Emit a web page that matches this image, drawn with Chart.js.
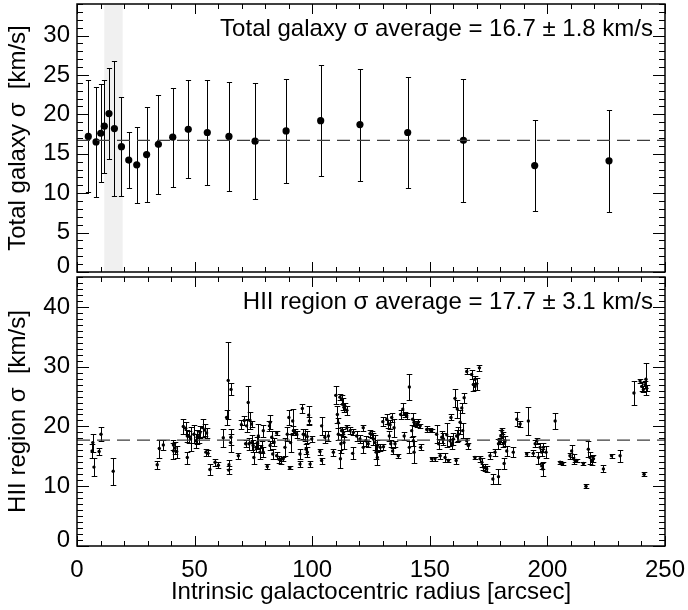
<!DOCTYPE html>
<html>
<head>
<meta charset="utf-8">
<script src="https://cdn.jsdelivr.net/npm/chart.js@4.4.1/dist/chart.umd.min.js"></script>
<style>
  html, body { margin: 0; padding: 0; background: #fff; }
  #wrap { position: relative; width: 688px; height: 610px; }
  #galaxyChart { position: absolute; left: 0; top: 0; }
  #hiiChart { position: absolute; left: 0; top: 273px; }
</style>
</head>
<body>
<div id="wrap">
  <canvas id="galaxyChart" width="688" height="282"></canvas>
  <canvas id="hiiChart" width="688" height="337"></canvas>
</div>
<script>
// ---- data ----
const xTickValues = [0, 50, 100, 150, 200, 250];
const galTickValues = [0, 5, 10, 15, 20, 25, 30];
const hiiTickValues = [0, 10, 20, 30, 40];

// total galaxy sigma per annulus
const galRadius = [4.8, 8.1, 10.1, 11.6, 13.6, 15.9, 18.9, 22.0, 25.4, 29.6, 34.6, 40.7,
    47.3, 55.4, 64.6, 75.7, 88.9, 103.6, 120.3, 140.6, 164.3, 194.6, 226.2];
const galSigma = [17.2, 16.5, 17.6, 18.5, 20.1, 18.2, 15.9, 14.2, 13.6, 14.9, 16.2, 17.1,
    18.1, 17.7, 17.2, 16.6, 17.9, 19.2, 18.7, 17.7, 16.7, 13.5, 14.1];
const galError = [7.1, 7.0, 6.2, 5.9, 5.8, 8.6, 6.3, 3.5, 4.8, 6.0, 6.3, 6.3,
    6.2, 6.6, 6.9, 7.4, 6.6, 7.0, 7.1, 7.0, 7.8, 5.8, 6.5];
const galAverage = 16.7;
const shadeRange = [11.6, 19.4];

// individual HII regions
const hiiRadius = [6.4, 6.7, 7.2, 9.4, 10.2, 15.4, 34.1, 35.0, 36.7, 41.0, 41.0, 41.7, 42.4,
    45.2, 46.2, 46.9, 46.9, 47.8, 48.3, 49.7, 50.6, 51.1, 51.7, 52.3, 53.4, 54.3, 54.8, 55.1,
    55.7, 56.5, 58.7, 60.1, 62.2, 63.6, 64.3, 64.5, 64.6, 65.3, 65.4, 65.5, 68.6, 69.9, 71.1,
    71.7, 72.1, 72.8, 73.1, 73.5, 74.2, 74.2, 74.9, 75.2, 76.1, 76.7, 77.1, 77.8, 78.5, 79.2,
    79.2, 80.9, 81.8, 82.1, 82.1, 82.8, 83.2, 83.8, 84.9, 84.9, 85.9, 86.6, 87.7, 88.4, 89.4,
    90.1, 90.5, 90.8, 91.7, 92.0, 92.7, 93.4, 94.8, 94.8, 95.8, 96.2, 96.9, 97.4, 97.9, 97.9,
    98.5, 98.8, 99.1, 99.8, 103.3, 104.0, 104.0, 105.4, 106.9, 109.0, 110.0, 110.7, 111.1,
    111.1, 111.8, 112.0, 112.2, 112.5, 112.5, 112.9, 113.3, 113.5, 113.5, 113.9, 114.7, 114.7,
    116.1, 117.2, 117.5, 118.9, 120.3, 121.7, 121.7, 122.8, 123.8, 124.6, 125.3, 126.0, 126.7,
    127.2, 127.7, 127.7, 128.9, 130.0, 130.3, 131.7, 132.4, 132.8, 133.1, 133.4, 133.8, 134.2,
    134.8, 135.2, 136.6, 137.6, 138.5, 139.1, 139.5, 140.2, 141.3, 141.3, 142.3, 142.7, 143.0,
    143.3, 143.3, 144.4, 145.1, 145.9, 146.1, 148.7, 150.1, 150.8, 150.8, 152.2, 152.9, 153.7,
    154.4, 155.1, 155.8, 156.5, 157.2, 157.9, 158.6, 159.0, 159.3, 160.0, 160.7, 161.2, 161.4,
    161.7, 162.2, 162.9, 163.6, 164.0, 164.6, 165.7, 165.7, 166.4, 167.8, 168.5, 169.2, 169.2,
    169.2, 169.9, 171.1, 171.4, 172.1, 172.8, 173.5, 174.2, 175.6, 176.8, 177.7, 179.2, 179.2,
    179.9, 180.2, 180.6, 181.0, 181.3, 181.6, 182.0, 182.7, 185.5, 187.0, 188.4, 191.2, 191.9,
    194.0, 194.8, 195.5, 196.2, 196.9, 197.6, 197.6, 198.0, 198.3, 199.4, 203.3, 205.4, 206.5,
    209.6, 210.3, 211.1, 211.8, 212.5, 215.3, 216.4, 217.4, 218.1, 218.8, 219.6, 223.8, 227.3,
    230.9, 236.8, 239.4, 240.1, 240.8, 241.1, 241.5, 241.9, 242.2];
const hiiSigma = [15.9, 17.3, 13.2, 15.8, 18.7, 12.5, 13.6, 16.3, 16.9, 16.9, 15.9, 16.4, 15.8,
    20.0, 19.7, 18.4, 14.8, 18.3, 17.9, 18.7, 17.6, 18.2, 18.3, 19.0, 19.8, 19.4, 15.7, 18.9,
    15.5, 12.8, 14.0, 13.5, 18.1, 21.5, 27.7, 12.7, 13.6, 17.3, 18.2, 26.2, 15.1, 20.3, 21.0,
    17.1, 20.1, 24.0, 17.1, 21.0, 20.4, 17.3, 16.8, 14.8, 16.5, 17.3, 18.4, 15.7, 16.5, 19.3,
    15.7, 13.3, 20.1, 20.7, 16.8, 18.2, 15.4, 17.4, 18.9, 15.1, 14.5, 14.3, 14.6, 16.5, 18.7,
    21.5, 13.1, 17.3, 20.9, 19.3, 19.0, 18.7, 15.4, 13.7, 23.0, 18.7, 18.6, 16.2, 15.7, 18.3,
    21.9, 20.9, 13.7, 17.9, 15.8, 20.1, 14.3, 18.2, 18.4, 15.7, 25.2, 22.0, 20.6,
    18.7, 24.9, 14.6, 17.1, 24.5, 19.3, 23.7, 19.0, 23.2, 17.3, 23.4, 22.7, 19.8,
    19.3, 15.5, 19.0, 18.4, 17.9, 19.8, 16.5, 17.6, 17.1, 18.8, 18.7, 17.9, 17.3,
    15.7, 14.8, 16.8, 16.5, 20.8, 16.6, 21.2, 20.4, 18.4, 20.3, 17.1, 21.5, 15.9,
    19.8, 17.1, 15.1, 22.0, 22.9, 18.4, 22.0, 21.8, 26.6, 16.5, 19.3, 21.2, 17.6,
    20.7, 15.7, 20.4, 20.7, 20.1, 16.5, 19.5, 19.4, 19.3, 14.6, 14.6, 18.7, 17.1,
    15.1, 18.2, 17.9, 14.8, 18.6, 14.3, 17.6, 21.5, 17.1, 17.9, 24.7, 14.3, 18.4,
    22.9, 18.7, 20.7, 23.1, 19.3, 24.8, 29.2, 17.6, 16.8, 28.7, 27.0, 27.9, 26.7,
    14.8, 27.1, 29.8, 14.6, 14.0, 13.2, 13.1, 12.9, 15.1, 11.2, 15.7, 17.1, 11.6,
    17.6, 18.4, 19.3, 18.2, 17.1, 13.8, 17.6, 15.9, 15.7, 21.2, 20.4, 15.4, 20.9,
    15.5, 17.1, 17.6, 14.8, 16.5, 15.7, 13.4, 12.9, 16.5, 15.7, 20.9, 14.0, 13.8,
    15.1, 15.9, 14.6, 14.3, 14.3, 13.8, 10.0, 16.2, 14.8, 14.3, 14.6, 12.9, 15.1,
    15.1, 25.6, 27.6, 26.7, 26.2, 12.0, 27.0, 27.9, 26.4];
const hiiError = [1.2, 1.5, 1.5, 0.6, 1.2, 2.3, 0.7, 1.5, 0.8, 0.8, 1.3, 1.0, 1.0,
    1.2, 1.0, 1.0, 1.0, 1.0, 2.0, 1.5, 1.2, 1.2, 1.0, 1.0, 1.5, 1.0, 0.6, 0.8,
    0.5, 1.0, 0.6, 0.5, 1.5, 1.2, 6.5, 0.6, 0.8, 1.5, 1.3, 1.0, 0.5, 0.8, 0.8,
    0.6, 1.0, 2.8, 1.0, 1.5, 0.5, 1.2, 1.0, 1.0, 0.8, 1.0, 2.0, 1.2, 1.0, 1.0,
    0.8, 0.5, 0.8, 1.2, 0.8, 1.0, 0.8, 0.6, 0.3, 0.6, 0.6, 0.5, 0.3, 1.5, 1.2,
    1.2, 0.3, 1.5, 2.0, 0.8, 0.5, 0.6, 0.8, 0.5, 0.8, 0.8, 1.0, 0.8, 0.8, 1.0,
    1.5, 0.6, 0.5, 0.5, 0.5, 1.5, 0.5, 1.0, 0.8, 0.6, 1.5, 1.5, 0.8,
    1.0, 0.5, 1.5, 1.5, 0.8, 0.6, 1.0, 0.6, 0.8, 1.0, 0.6, 0.8, 0.5,
    0.6, 1.0, 0.5, 0.8, 0.6, 0.5, 1.0, 0.8, 0.5, 0.6, 0.6, 1.0, 1.2,
    1.2, 1.2, 1.0, 0.6, 0.8, 0.5, 0.8, 0.6, 0.8, 0.8, 0.6, 0.8, 0.5,
    1.5, 0.5, 0.3, 0.8, 1.0, 0.6, 0.5, 0.5, 2.2, 1.0, 1.0, 1.0, 0.8,
    0.6, 1.8, 0.5, 0.5, 0.3, 0.5, 0.5, 0.3, 0.3, 0.3, 0.3, 1.5, 0.8,
    0.5, 1.0, 1.0, 0.8, 2.0, 0.3, 0.8, 0.5, 0.8, 1.0, 1.5, 0.5, 1.0,
    1.5, 1.2, 2.0, 0.8, 1.2, 0.8, 0.5, 0.5, 0.5, 0.8, 1.0, 0.6, 0.6,
    0.3, 1.0, 0.5, 0.5, 0.8, 0.5, 0.6, 0.5, 0.6, 0.8, 0.6, 0.8, 1.2,
    0.5, 1.0, 0.5, 0.8, 0.6, 1.0, 0.8, 0.8, 0.8, 1.2, 0.5, 0.3, 2.3,
    0.5, 0.6, 0.5, 1.0, 0.8, 0.6, 0.5, 1.2, 0.8, 1.0, 1.3, 0.3, 0.3,
    0.5, 1.0, 0.8, 0.3, 0.3, 0.3, 0.3, 1.3, 1.0, 0.8, 0.6, 0.6, 0.3,
    1.0, 2.0, 0.3, 0.8, 0.5, 0.3, 0.6, 2.7, 0.5];
const hiiAverage = 17.7;

const FONT = '"Liberation Sans", Arial, Helvetica, sans-serif';

// snap to the pixel grid so 1px strokes stay crisp
const crisp = (v) => Math.round(v) + 0.5;

// frame, inward IDL-style ticks, error bars, shading and the average label
function makePanelPlugin(cfg) {
    return {
        id: 'panel',
        beforeDatasetsDraw(chart) {
            const { ctx, chartArea: a, scales: { x, y } } = chart;
            if (cfg.band) {
                const x0 = x.getPixelForValue(cfg.band[0]);
                const x1 = x.getPixelForValue(cfg.band[1]);
                ctx.save();
                ctx.fillStyle = '#f0f0f0';
                ctx.fillRect(x0, a.top, x1 - x0, a.bottom - a.top);
                ctx.restore();
            }
            ctx.save();
            ctx.strokeStyle = '#000';
            ctx.lineWidth = 1;
            cfg.radius.forEach((r, i) => {
                const px = crisp(x.getPixelForValue(r));
                const lo = Math.round(y.getPixelForValue(cfg.sigma[i] - cfg.error[i])) + 0.5;
                const hi = Math.round(y.getPixelForValue(cfg.sigma[i] + cfg.error[i])) + 0.5;
                ctx.beginPath();
                ctx.moveTo(px, lo); ctx.lineTo(px, hi);
                ctx.moveTo(px - cfg.cap, lo); ctx.lineTo(px + cfg.cap, lo);
                ctx.moveTo(px - cfg.cap, hi); ctx.lineTo(px + cfg.cap, hi);
                ctx.stroke();
            });
            ctx.restore();
        },
        afterDraw(chart) {
            const { ctx, chartArea: a, scales: { x, y } } = chart;
            ctx.save();
            ctx.strokeStyle = '#000';
            ctx.lineWidth = 1.5;
            ctx.strokeRect(a.left, a.top, a.right - a.left, a.bottom - a.top);

            ctx.lineWidth = 1;
            ctx.beginPath();
            for (let v = x.min; v <= x.max; v += 10) {
                const px = crisp(x.getPixelForValue(v));
                const len = v % 50 === 0 ? 10 : 5;
                ctx.moveTo(px, a.bottom); ctx.lineTo(px, a.bottom - len);
                ctx.moveTo(px, a.top); ctx.lineTo(px, a.top + len);
            }
            for (let v = 0; v <= y.max; v += 1) {
                const py = crisp(y.getPixelForValue(v));
                const len = v % cfg.yMajor === 0 ? 12 : 6;
                ctx.moveTo(a.left, py); ctx.lineTo(a.left + len, py);
                ctx.moveTo(a.right, py); ctx.lineTo(a.right - len, py);
            }
            ctx.stroke();

            ctx.fillStyle = '#000';
            ctx.font = '24px ' + FONT;
            ctx.textAlign = 'right';
            ctx.textBaseline = 'alphabetic';
            ctx.fillText(cfg.label, a.right - 12, a.top + 32);
            ctx.restore();
        }
    };
}

function yAxis(min, max, tickValues, title) {
    return {
        type: 'linear',
        min: min,
        max: max,
        grid: { display: false, drawTicks: false },
        border: { display: false },
        afterBuildTicks: (scale) => { scale.ticks = tickValues.map(v => ({ value: v })); },
        afterFit: (scale) => { scale.width = 77; scale.paddingTop = 0; scale.paddingBottom = 0; },
        ticks: {
            color: '#000',
            padding: 7,
            font: { family: FONT, size: 24, lineHeight: '12px' },
            // the zero label sits a little above the bottom frame, as in the original
            callback: (value) => value === 0 ? ['0', ''] : String(value)
        },
        title: {
            display: true,
            text: title,
            color: '#000',
            padding: { top: 4, bottom: 0 },
            font: { family: FONT, size: 24 }
        }
    };
}

function averageLine(value) {
    return {
        type: 'line',
        data: [{ x: 0, y: value }, { x: 250, y: value }],
        borderColor: '#3c3c3c',
        borderWidth: 1.3,
        borderDash: [13, 7],
        pointRadius: 0,
        fill: false
    };
}

document.addEventListener('DOMContentLoaded', function () {

    // 1. Total galaxy sigma
    new Chart(document.getElementById('galaxyChart'), {
        type: 'scatter',
        data: {
            datasets: [
                averageLine(galAverage),
                {
                    data: galRadius.map((r, i) => ({ x: r, y: galSigma[i] })),
                    backgroundColor: '#000',
                    borderColor: '#000',
                    pointRadius: 3.6,
                    pointBorderWidth: 0
                }
            ]
        },
        options: {
            responsive: false,
            animation: false,
            devicePixelRatio: 1,
            layout: { padding: { left: 0, right: 23, top: 4, bottom: 10 } },
            plugins: { legend: { display: false }, tooltip: { enabled: false } },
            scales: {
                x: {
                    type: 'linear', min: 0, max: 250,
                    grid: { display: false, drawTicks: false },
                    border: { display: false },
                    ticks: { display: false },
                    afterFit: (scale) => { scale.height = 0; scale.paddingLeft = 0; scale.paddingRight = 0; }
                },
                y: yAxis(0, 34, galTickValues, 'Total galaxy \u03c3  [km/s]')
            }
        },
        plugins: [makePanelPlugin({
            radius: galRadius, sigma: galSigma, error: galError, cap: 2.6, band: shadeRange,
            yMajor: 5, label: 'Total galaxy \u03c3 average = 16.7 \u00b1 1.8 km/s'
        })]
    });

    // 2. HII region sigma
    new Chart(document.getElementById('hiiChart'), {
        type: 'scatter',
        data: {
            datasets: [
                averageLine(hiiAverage),
                {
                    data: hiiRadius.map((r, i) => ({ x: r, y: hiiSigma[i] })),
                    backgroundColor: '#000',
                    borderColor: '#000',
                    pointRadius: 1.7,
                    pointBorderWidth: 0
                }
            ]
        },
        options: {
            responsive: false,
            animation: false,
            devicePixelRatio: 1,
            layout: { padding: { left: 0, right: 23, top: 1, bottom: 0 } },
            plugins: { legend: { display: false }, tooltip: { enabled: false } },
            scales: {
                x: {
                    type: 'linear', min: 0, max: 250,
                    grid: { display: false, drawTicks: false },
                    border: { display: false },
                    afterBuildTicks: (scale) => { scale.ticks = xTickValues.map(v => ({ value: v })); },
                    afterFit: (scale) => { scale.height = 64; scale.paddingLeft = 0; scale.paddingRight = 0; },
                    ticks: { color: '#000', padding: 10, maxRotation: 0, font: { family: FONT, size: 24 } },
                    title: {
                        display: true,
                        text: 'Intrinsic galactocentric radius [arcsec]',
                        color: '#000',
                        padding: { top: 0, bottom: 3 },
                        font: { family: FONT, size: 24 }
                    }
                },
                y: yAxis(0, 45, hiiTickValues, 'HII region \u03c3  [km/s]')
            }
        },
        plugins: [makePanelPlugin({
            radius: hiiRadius, sigma: hiiSigma, error: hiiError, cap: 2.8,
            yMajor: 10, label: 'HII region \u03c3 average = 17.7 \u00b1 3.1 km/s'
        })]
    });
});
</script>
</body>
</html>
